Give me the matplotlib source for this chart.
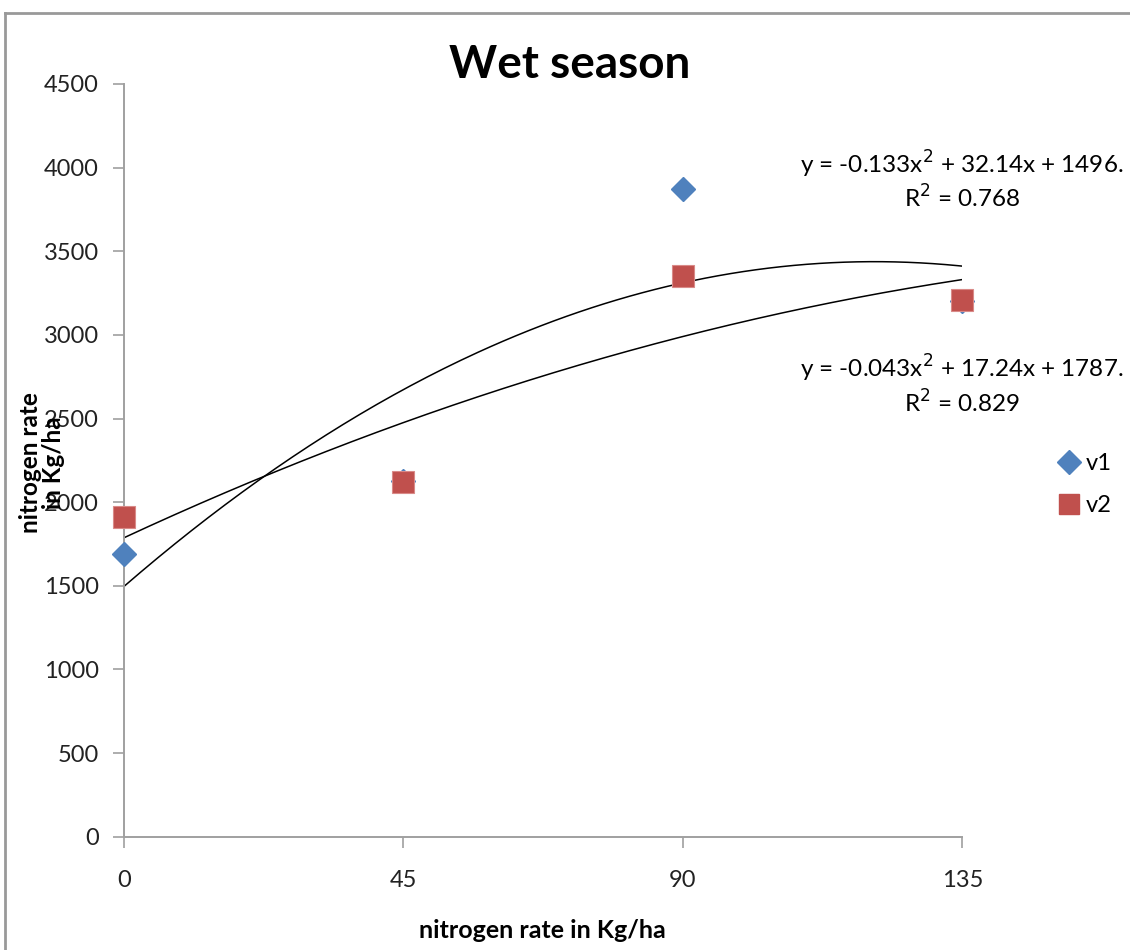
import matplotlib
matplotlib.use("Agg")
import matplotlib.pyplot as plt
import numpy as np
from matplotlib.lines import Line2D

plt.rcParams['font.family'] = ['Lato', 'DejaVu Sans']

# data
n_rate = [0, 45, 90, 135]
v1 = [1688, 2125, 3872, 3205]
v2 = [1909, 2118, 3351, 3208]

# trendline coefficients as printed on the chart (x^2, x, const)
v1_coef = [-0.133, 32.14, 1496]
v2_coef = [-0.043, 17.24, 1787]
v1_eq = "y = -0.133x$^2$ + 32.14x + 1496.\nR$^2$ = 0.768"
v2_eq = "y = -0.043x$^2$ + 17.24x + 1787.\nR$^2$ = 0.829"

x_ticks = [0, 45, 90, 135]
y_ticks = list(range(0, 4501, 500))

blue = '#4F81BD'
red = '#C0504D'
grey = '#A0A0A0'

fig = plt.figure(figsize=(11.3, 9.5), dpi=100)
ax = fig.add_axes([0.1097, 0.1193, 0.742, 0.7923])

# trendlines
xs = np.linspace(0, 135, 200)
ax.plot(xs, np.polyval(v1_coef, xs), color='black', lw=1.1, zorder=2)
ax.plot(xs, np.polyval(v2_coef, xs), color='black', lw=1.1, zorder=2)

ax.plot(n_rate, v1, linestyle='none', marker='D', markersize=12, color=blue,
        markeredgecolor=blue, label='v1', zorder=3, clip_on=False)
ax.plot(n_rate, v2, linestyle='none', marker='s', markersize=16, color=red,
        markeredgecolor='#D98A88', markeredgewidth=0.8, label='v2', zorder=4,
        clip_on=False)

ax.set_xlim(0, 135)
ax.set_ylim(0, 4500)
ax.set_xticks(x_ticks)
ax.set_yticks(y_ticks)
ax.tick_params(axis='both', direction='out', length=8, width=1.2, color=grey,
               labelsize=17, labelcolor='#222222')
ax.tick_params(axis='x', pad=16)
ax.tick_params(axis='y', pad=10)

for s in ['top', 'right']:
    ax.spines[s].set_visible(False)
for s in ['left', 'bottom']:
    ax.spines[s].set_color(grey)
    ax.spines[s].set_linewidth(1.4)

# equations
fig.text(0.851, 0.81, v1_eq, fontsize=17.5, ha='center', va='center',
         multialignment='center', linespacing=1.2)
fig.text(0.851, 0.595, v2_eq, fontsize=17.5, ha='center', va='center',
         multialignment='center', linespacing=1.2)

# title and labels
fig.text(0.504, 0.932, 'Wet season', fontsize=33, fontweight='bold',
         ha='center', va='center')
fig.text(0.48, 0.021, 'nitrogen rate in Kg/ha', fontsize=18, fontweight='bold',
         ha='center', va='center')
fig.text(0.037, 0.513, 'nitrogen rate\nin Kg/ha', fontsize=17.5, fontweight='bold',
         ha='center', va='center', rotation=90, linespacing=1.0)

# legend
leg = fig.legend(handles=[
    Line2D([], [], linestyle='none', marker='D', markersize=12, color=blue, label='v1'),
    Line2D([], [], linestyle='none', marker='s', markersize=15, color=red, label='v2')],
    loc='center left', bbox_to_anchor=(0.915, 0.49), frameon=False,
    fontsize=17, handletextpad=0.1, labelspacing=0.9, handlelength=1.2)

# chart frame
fig.add_artist(Line2D([0.004, 0.004], [0, 0.986], color='#999999', lw=2,
                      transform=fig.transFigure))
fig.add_artist(Line2D([0.004, 1.0], [0.986, 0.986], color='#999999', lw=2,
                      transform=fig.transFigure))

fig.savefig('out.png', dpi=100)
